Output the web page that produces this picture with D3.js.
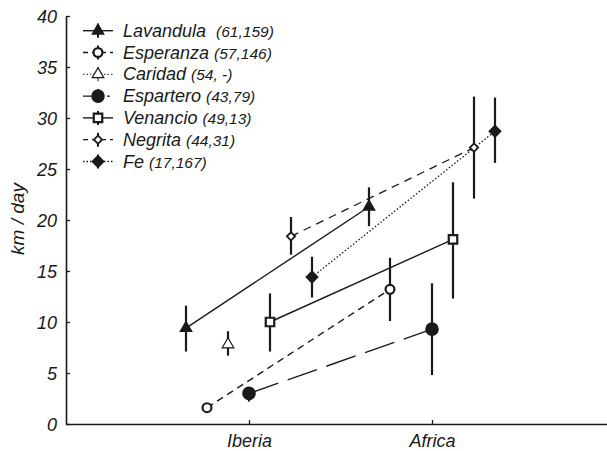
<!DOCTYPE html>
<html>
<head>
<meta charset="utf-8">
<script src="https://cdn.jsdelivr.net/npm/d3@7"></script>
<style>
html,body{margin:0;padding:0;background:#fff;}
svg{display:block;}
text{font-family:"Liberation Sans",Arial,sans-serif;font-style:italic;fill:#1a1a1a;}
</style>
</head>
<body>
<svg id="chart" width="607" height="451"></svg>
<script>
const categories = ["Iberia", "Africa"];
const seriesNames = ["Lavandula", "Esperanza", "Caridad", "Espartero", "Venancio", "Negrita", "Fe"];
const sampleLabels = ["(61,159)", "(57,146)", "(54, -)", "(43,79)", "(49,13)", "(44,31)", "(17,167)"];
const iberiaMean = [9.4, 1.6, 7.8, 3.0, 10.0, 18.4, 14.4];
const iberiaLow  = [7.1, 1.6, 6.7, 2.2, 7.1, 16.6, 12.4];
const iberiaHigh = [11.6, 1.6, 9.1, 3.6, 12.8, 20.3, 16.4];
const africaMean = [21.3, 13.2, null, 9.3, 18.1, 27.1, 28.7];
const africaLow  = [19.4, 10.1, null, 4.8, 12.3, 22.1, 25.6];
const africaHigh = [23.2, 16.3, null, 13.8, 23.7, 32.1, 32.0];
const yTicks = [0, 5, 10, 15, 20, 25, 30, 35, 40];

const styles = {
  Lavandula: {sym: "triangle", fill: "#1a1a1a", dash: null, lw: 1.4},
  Esperanza: {sym: "circle", fill: "#fff", dash: "7,5", lw: 1.4},
  Caridad:   {sym: "triangle", fill: "#fff", dash: "1.5,2", lw: 1, open: true},
  Espartero: {sym: "bigcircle", fill: "#1a1a1a", dash: "31,10", lw: 1.4},
  Venancio:  {sym: "square", fill: "#fff", dash: null, lw: 1.4},
  Negrita:   {sym: "diamond", fill: "#fff", dash: "8,6", lw: 1.3},
  Fe:        {sym: "bigdiamond", fill: "#1a1a1a", dash: "1.5,2", lw: 1.3}
};

const svg = d3.select("#chart");
const ink = "#1a1a1a";

const y = d3.scaleLinear().domain([0, 40]).range([424, 16]);
const xCat = d3.scaleLinear().domain([-1, 2]).range([66, 615]);
const offset = d3.scalePoint().domain(seriesNames).range([-63, 63]);

function symbolPath(kind) {
  switch (kind) {
    case "triangle": return d3.symbol().type(d3.symbolTriangle).size(58)();
    case "circle": return d3.symbol().type(d3.symbolCircle).size(62)();
    case "bigcircle": return d3.symbol().type(d3.symbolCircle).size(120)();
    case "square": return d3.symbol().type(d3.symbolSquare).size(72)();
    case "diamond": return d3.symbol().type(d3.symbolSquare).size(34)();
    case "bigdiamond": return d3.symbol().type(d3.symbolSquare).size(70)();
  }
}
function symbolRotate(kind) { return (kind === "diamond" || kind === "bigdiamond") ? 45 : 0; }
function symbolStroke(kind) {
  if (kind === "circle" || kind === "square") return 2.2;
  if (kind === "diamond") return 1.8;
  return 1.2;
}

// build points
const points = [];
seriesNames.forEach((s, i) => {
  const rows = [[iberiaMean[i], iberiaLow[i], iberiaHigh[i], 0], [africaMean[i], africaLow[i], africaHigh[i], 1]];
  rows.forEach(([m, lo, hi, c]) => {
    if (m == null) return;
    points.push({series: s, cat: categories[c], ci: c, mean: m, low: lo, high: hi});
  });
});
const px = d => xCat(d.ci) + offset(d.series);

// axes
const yAxis = d3.axisLeft(y).tickValues(yTicks).tickSizeInner(-4).tickSizeOuter(0).tickPadding(9).tickFormat(d3.format("d"));
const gy = svg.append("g").attr("transform", "translate(66,0)").call(yAxis);
gy.select(".domain").attr("stroke", ink).attr("stroke-width", 1.6);
gy.selectAll(".tick line").attr("stroke", ink).attr("stroke-width", 1.3);
gy.selectAll(".tick text").attr("font-size", 18).attr("font-family", null).attr("fill", ink).attr("dy", "0.36em");

const xAxis = d3.axisBottom(xCat).tickValues([0, 1]).tickFormat(i => categories[i]).tickSizeInner(-4).tickSizeOuter(0).tickPadding(10);
const gx = svg.append("g").attr("transform", "translate(0,424)").call(xAxis);
gx.select(".domain").attr("stroke", ink).attr("stroke-width", 1.6);
gx.selectAll(".tick line").attr("stroke", ink).attr("stroke-width", 1.3);
gx.selectAll(".tick text").attr("font-size", 18).attr("font-family", null).attr("fill", ink);

svg.append("text").attr("transform", "translate(24,219) rotate(-90)")
  .attr("text-anchor", "middle").attr("font-size", 19).text("km / day");

// connecting lines
const line = d3.line().x(px).y(d => y(d.mean));
seriesNames.forEach(s => {
  const pts = points.filter(p => p.series === s);
  if (pts.length < 2) return;
  const st = styles[s];
  svg.append("path").datum(pts).attr("d", line)
    .attr("fill", "none").attr("stroke", ink).attr("stroke-width", st.lw)
    .attr("stroke-dasharray", st.dash);
});

// error bars
svg.append("g").selectAll("line").data(points.filter(p => p.high > p.low)).join("line")
  .attr("x1", px).attr("x2", px)
  .attr("y1", d => y(d.low)).attr("y2", d => y(d.high))
  .attr("stroke", ink).attr("stroke-width", 2.2);

// symbols
svg.append("g").selectAll("path").data(points).join("path")
  .attr("d", d => symbolPath(styles[d.series].sym))
  .attr("transform", d => `translate(${px(d)},${y(d.mean)}) rotate(${symbolRotate(styles[d.series].sym)})`)
  .attr("fill", d => styles[d.series].fill)
  .attr("stroke", ink)
  .attr("stroke-width", d => symbolStroke(styles[d.series].sym));

// legend
const legY = d3.scalePoint().domain(seriesNames).range([30.7, 161.5]);
const leg = svg.append("g");
const legendDash = {Espartero: "19,5,3,20"};
seriesNames.forEach((s, i) => {
  const st = styles[s];
  const cy = legY(s);
  const g = leg.append("g");
  g.append("line").attr("x1", 83).attr("x2", 113).attr("y1", cy).attr("y2", cy)
    .attr("stroke", ink).attr("stroke-width", st.lw)
    .attr("stroke-dasharray", legendDash[s] || (st.dash ? (st.dash === "1.5,2" ? "1.5,2" : "5,4") : null));
  g.append("line").attr("x1", 98).attr("x2", 98).attr("y1", cy - 7).attr("y2", cy + 7)
    .attr("stroke", ink).attr("stroke-width", st.open ? 1 : 2);
  g.append("path").attr("d", symbolPath(st.sym))
    .attr("transform", `translate(98,${cy}) rotate(${symbolRotate(st.sym)})`)
    .attr("fill", st.fill).attr("stroke", ink).attr("stroke-width", symbolStroke(st.sym));
  const t = g.append("text").attr("x", 123).attr("y", cy + 6);
  t.append("tspan").attr("font-size", 18).text(s);
  t.append("tspan").attr("font-size", 15.5).attr("dx", s === "Lavandula" ? 10 : 5).text(sampleLabels[i]);
});
</script>
</body>
</html>
